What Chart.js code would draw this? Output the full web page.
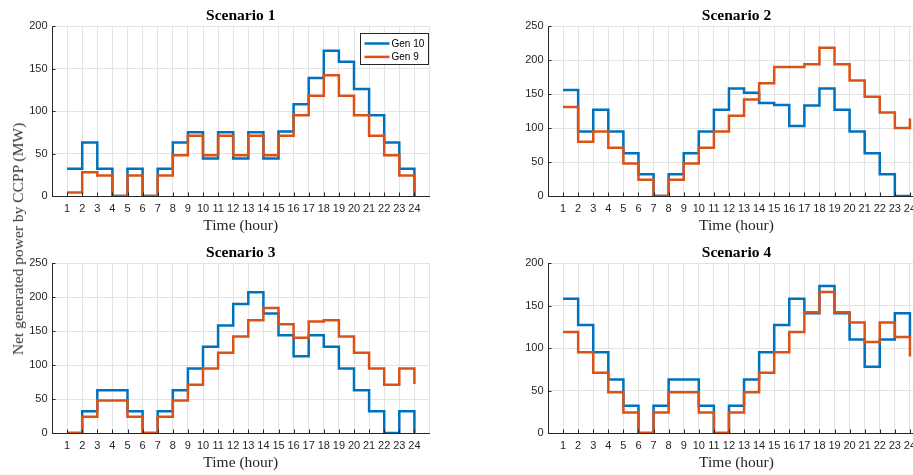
<!DOCTYPE html>
<html>
<head>
<meta charset="utf-8">
<script src="https://cdn.jsdelivr.net/npm/chart.js@4/dist/chart.umd.min.js"></script>
<style>
  html, body { margin: 0; padding: 0; background: #fff; }
  body { position: relative; width: 913px; height: 475px; overflow: hidden; }
  canvas { position: absolute; }
  #ylab {
    position: absolute; left: 18px; top: 239px;
    transform: translate(-50%, -50%) rotate(-90deg);
    white-space: nowrap;
    font: 15.5px "Liberation Serif", "Times New Roman", serif;
    color: #333;
  }
</style>
</head>
<body>
<canvas id="c1" width="460" height="237" style="left:0;top:0"></canvas>
<canvas id="c2" width="480" height="237" style="left:456px;top:0"></canvas>
<canvas id="c3" width="460" height="237" style="left:0;top:237px"></canvas>
<canvas id="c4" width="480" height="237" style="left:456px;top:237px"></canvas>
<div id="ylab">Net generated power by CCPP (MW)</div>
<script>
// Hours of the day
const HOURS = [1,2,3,4,5,6,7,8,9,10,11,12,13,14,15,16,17,18,19,20,21,22,23,24];
const SERIES_NAMES = ['Gen 10', 'Gen 9'];

// Net generated power (MW) per hour
const S1_GEN10 = [32,63,32,0,32,0,32,63,75,44,75,44,75,44,76,108,139,171,158,126,95,63,32,0];
const S1_GEN9  = [4,28,24,0,24,0,24,48,71,48,71,48,71,48,71,95,118,142,118,95,71,48,24,0];

const S2_GEN10 = [156,95,127,95,63,32,0,32,63,95,127,158,152,137,134,103,133,158,127,95,63,32,0,0];
const S2_GEN9  = [131,80,95,71,48,24,0,24,48,71,95,118,142,166,190,190,194,218,194,170,146,123,100,114];

const S3_GEN10 = [0,32,63,63,32,0,32,63,95,127,158,190,207,176,144,113,144,127,95,63,32,0,32,0];
const S3_GEN9  = [0,24,48,48,24,0,24,48,71,95,118,142,166,184,160,140,164,166,142,118,95,71,95,72];

const S4_GEN10 = [158,127,95,63,32,0,32,63,63,32,0,32,63,95,127,158,141,173,141,110,78,110,141,113];
const S4_GEN9  = [119,95,71,48,24,0,24,48,48,24,0,24,48,71,95,119,142,166,142,130,107,130,113,90];

const Y_TICK_STEP = 50;

const BLUE = '#0072BD';
const ORANGE = '#D95319';
const AXIS = '#262626';

// small tick marks pointing into the plot area
const inwardTicks = {
  id: 'inwardTicks',
  afterDatasetsDraw(chart) {
    const { ctx, chartArea: a, scales: { x, y } } = chart;
    ctx.save();
    ctx.strokeStyle = AXIS;
    ctx.lineWidth = 1;
    ctx.beginPath();
    x.ticks.forEach(t => {
      if (t.value < 1 || t.value > 24) return;
      const px = Math.round(x.getPixelForValue(t.value)) + 0.5;
      ctx.moveTo(px, a.bottom);
      ctx.lineTo(px, a.bottom - 3.5);
    });
    y.ticks.forEach(t => {
      const py = Math.round(y.getPixelForValue(t.value)) + 0.5;
      ctx.moveTo(a.left, py);
      ctx.lineTo(a.left + 3.5, py);
    });
    ctx.stroke();
    ctx.restore();
  }
};

// boxed legend in the upper right corner of the plot area
const boxLegend = {
  id: 'boxLegend',
  afterDraw(chart, args, opts) {
    if (!opts.show) return;
    const { ctx, chartArea: a } = chart;
    const w = 68, h = 31;
    const x0 = Math.round(a.right - 69.5) + 0.5, y0 = Math.round(a.top + 7) + 0.5;
    ctx.save();
    ctx.fillStyle = '#fff';
    ctx.fillRect(x0, y0, w, h);
    ctx.strokeStyle = AXIS;
    ctx.lineWidth = 1;
    ctx.strokeRect(x0, y0, w, h);
    ctx.font = '10px "Liberation Sans", Arial, sans-serif';
    ctx.textBaseline = 'middle';
    ctx.fillStyle = '#000';
    chart.data.datasets.forEach((ds, i) => {
      const ly = y0 + 10 + i * 13.4;
      ctx.strokeStyle = ds.borderColor;
      ctx.lineWidth = 2.5;
      ctx.beginPath();
      ctx.moveTo(x0 + 4, ly);
      ctx.lineTo(x0 + 29, ly);
      ctx.stroke();
      ctx.fillText(ds.label, x0 + 31, ly + 0.5);
    });
    ctx.restore();
  }
};

function points(values) {
  return HOURS.map((h, i) => ({ x: h, y: values[i] }));
}

function makeChart(id, title, gen10, gen9, yMax, yAxisWidth, padRight, showLegend) {
  return new Chart(document.getElementById(id), {
    type: 'line',
    data: {
      datasets: [
        { label: SERIES_NAMES[0], data: points(gen10), borderColor: BLUE, borderWidth: 2.5,
          pointRadius: 0, stepped: true, fill: false, order: 1 },
        { label: SERIES_NAMES[1], data: points(gen9), borderColor: ORANGE, borderWidth: 2.5,
          pointRadius: 0, stepped: true, fill: false, order: 0 }
      ]
    },
    options: {
      responsive: false,
      animation: false,
      devicePixelRatio: 1,
      layout: { padding: { left: 0, right: padRight, top: 0, bottom: 0 } },
      plugins: {
        legend: { display: false },
        tooltip: { enabled: false },
        title: {
          display: true, text: title, fullSize: false, color: '#000',
          font: { family: '"Liberation Serif", "Times New Roman", serif', size: 15.5, weight: 'bold', lineHeight: 1.2 },
          padding: { top: 6.5, bottom: 1 }
        },
        boxLegend: { show: showLegend }
      },
      scales: {
        x: {
          type: 'linear', min: 0, max: 25,
          ticks: {
            stepSize: 1, autoSkip: false, maxRotation: 0, minRotation: 0, padding: 6,
            color: AXIS, font: { family: '"Liberation Sans", Arial, sans-serif', size: 11 },
            callback: v => (v >= 1 && v <= 24) ? String(v) : ''
          },
          grid: { color: '#e3e3e3', lineWidth: 1, drawTicks: false },
          border: { color: AXIS, width: 1 },
          title: {
            display: true, text: 'Time (hour)', color: AXIS,
            font: { family: '"Liberation Serif", "Times New Roman", serif', size: 15.5, lineHeight: 1.2 },
            padding: { top: 0, bottom: 1.5 }
          },
          afterFit: s => { s.height = 41; }
        },
        y: {
          min: 0, max: yMax,
          ticks: {
            stepSize: Y_TICK_STEP, padding: 4.5, color: AXIS,
            font: { family: '"Liberation Sans", Arial, sans-serif', size: 11 }
          },
          grid: { color: '#e3e3e3', lineWidth: 1, drawTicks: false },
          border: { color: AXIS, width: 1 },
          afterFit: s => { s.width = yAxisWidth; }
        }
      }
    },
    plugins: [inwardTicks, boxLegend]
  });
}

makeChart('c1', 'Scenario 1', S1_GEN10, S1_GEN9, 200, 52, 30.5, true);
makeChart('c2', 'Scenario 2', S2_GEN10, S2_GEN9, 250, 92, 11, false);
makeChart('c3', 'Scenario 3', S3_GEN10, S3_GEN9, 250, 52, 30.5, false);
makeChart('c4', 'Scenario 4', S4_GEN10, S4_GEN9, 200, 92, 11, false);
</script>
</body>
</html>
